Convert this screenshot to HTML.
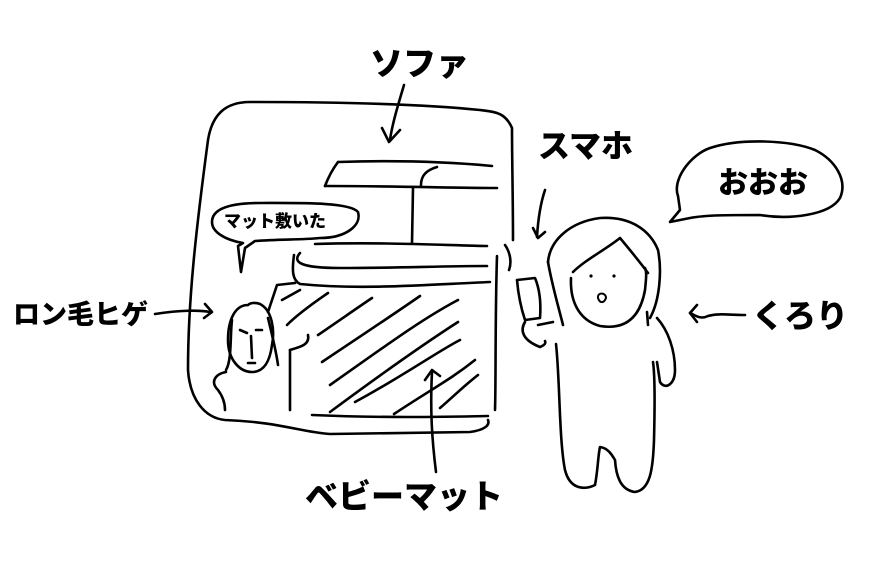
<!DOCTYPE html>
<html><head><meta charset="utf-8"><style>
html,body{margin:0;padding:0;background:#fff;}
svg{display:block}
text{font-family:"Liberation Sans","Noto Sans CJK JP",sans-serif;font-weight:900;fill:#000}
</style></head><body>
<svg width="890" height="566" viewBox="0 0 890 566" xmlns="http://www.w3.org/2000/svg">
<g fill="none" stroke="#000" stroke-width="2.6" stroke-linecap="round" stroke-linejoin="round">
<!-- frame -->
<path d="M513,240 C513,200 512,160 512,128 C505,112 495,112 480,110 C420,104 330,102 250,102 C225,102 212,115 208,140 C196,230 188,300 188,370 C190,400 205,418 225,420 C280,422 300,432 330,434 L470,432 C485,430 490,425 488,420"/>
<path d="M497,256 C495,320 496,380 495,410"/>
<!-- sofa top -->
<path d="M338,162 C400,160 450,162 492,166"/>
<path d="M338,162 C332,170 328,178 325,186"/>
<path d="M325,186 C400,186 450,188 497,188"/>
<path d="M421,185 C421,175 427,170 437,167"/>
<path d="M413,188 L412,243"/>
<!-- sofa lower -->
<path d="M315,244 C380,242 440,245 487,246"/>
<path d="M300,253 C292,262 300,268 340,268 C400,268 440,266 487,266"/>
<path d="M294,255 C292,270 292,280 300,284 C360,290 420,285 490,282"/>
<path d="M505,245 C510,252 512,262 509,270"/>
<!-- hatch -->
<path d="M268,312 L277,285 L295,283"/>
<path d="M282,300 L300,290"/>
<path d="M287,325 C300,312 318,300 328,293"/>
<path d="M318,335 C340,320 360,306 372,298"/>
<path d="M322,362 C370,330 400,310 420,296"/>
<path d="M330,385 C380,350 420,320 458,300"/>
<path d="M330,412 C380,375 430,340 458,322"/>
<path d="M355,402 C400,378 440,350 460,340"/>
<path d="M394,414 C430,390 450,380 475,360"/>
<path d="M440,408 C455,395 465,385 478,375"/>
<path d="M312,415 C380,418 440,417 488,416"/>
<!-- man in room -->
<path d="M290,350 L290,410"/>
<path d="M290,350 C300,347 310,345 308,335"/>
<path d="M248,305 C235,305 228,320 228,340 C228,360 240,372 252,372 C265,372 270,360 272,345 C275,330 272,310 260,304 C255,302 250,303 248,305"/>
<path d="M232,320 C230,335 232,360 226,370"/>
<path d="M268,318 C272,335 276,350 278,365"/>
<path d="M240,330 L247,333"/><path d="M256,330 L262,330"/>
<path d="M251,336 L252,358"/><path d="M248,363 L255,363"/>
<path d="M226,372 C215,374 210,382 218,390 C224,398 225,405 225,410"/>
<!-- arrows -->
<path d="M404,85 C398,105 392,125 390,140"/><path d="M382,128 L389,142 L400,130"/>
<path d="M155,314 C180,310 200,310 210,312"/><path d="M205,304 L212,312 L204,318"/>
<path d="M545,190 C540,205 538,220 537,237"/><path d="M533,228 L538,238 L545,232"/>
<path d="M436,472 C432,440 430,410 432,372"/><path d="M425,380 L432,370 L440,376"/>
<path d="M745,315 C730,315 718,313 708,316 C700,320 695,315 690,313"/><path d="M697,305 L690,313 L697,322"/>
<!-- speech bubbles -->
<path d="M243,243 C225,240 212,232 212,222 C212,208 232,203 260,203 C300,203 350,202 358,212 C362,226 345,238 320,238 C300,240 280,239 255,241 L245,248 L241,272 L238,246 Z"/>
<path d="M678,196 C672,180 690,155 710,148 C740,138 790,140 815,150 C835,160 848,180 840,198 C830,215 790,220 760,215 C730,215 705,215 690,218 L670,222 L680,210 Z"/>
<!-- person -->
<path d="M548,262 C550,240 570,222 600,218 C630,216 650,230 658,250 C662,270 660,300 650,318"/>
<path d="M548,262 C552,285 558,305 563,325"/>
<path d="M573,272 C585,260 605,250 620,238 C630,250 640,262 648,273"/>
<path d="M571,278 C570,300 578,320 600,326 C625,330 640,318 645,290 C646,280 647,272 645,268"/>
<path d="M647,312 L648,325"/>
<path d="M657,318 C668,330 675,350 675,370 C675,385 665,390 660,382 L657,362"/>
<path d="M556,344 C560,380 559,440 565,470 C570,490 585,490 595,485 C598,470 598,455 600,447 C608,448 612,455 615,460 C616,475 620,490 635,492 C650,490 653,470 654,440 C655,400 655,375 653,362"/>
<path d="M517,280 L535,278 C540,290 541,305 540,318 L525,320 C520,305 518,292 517,280 Z"/>
<path d="M525,322 C520,330 522,340 540,347 C545,345 546,343 545,341"/>
<path d="M538,325 L553,322"/>
</g>
<circle cx="591" cy="276" r="1.6"/><circle cx="614" cy="276" r="1.6"/>
<path d="M598,298 C597,292 606,292 606,298 C604,303 600,304 598,298 Z" fill="none" stroke="#000" stroke-width="2"/>
<text x="370" y="75" font-size="33">ソファ</text>
<text x="538" y="157" font-size="32">スマホ</text>
<text x="718" y="193" font-size="30">おおお</text>
<text x="224" y="227" font-size="17">マット敷いた</text>
<text x="13" y="324" font-size="27">ロン毛ヒゲ</text>
<text x="752" y="327" font-size="32">くろり</text>
<text x="305" y="508" font-size="33">ベビーマット</text>
</svg>
</body></html>
